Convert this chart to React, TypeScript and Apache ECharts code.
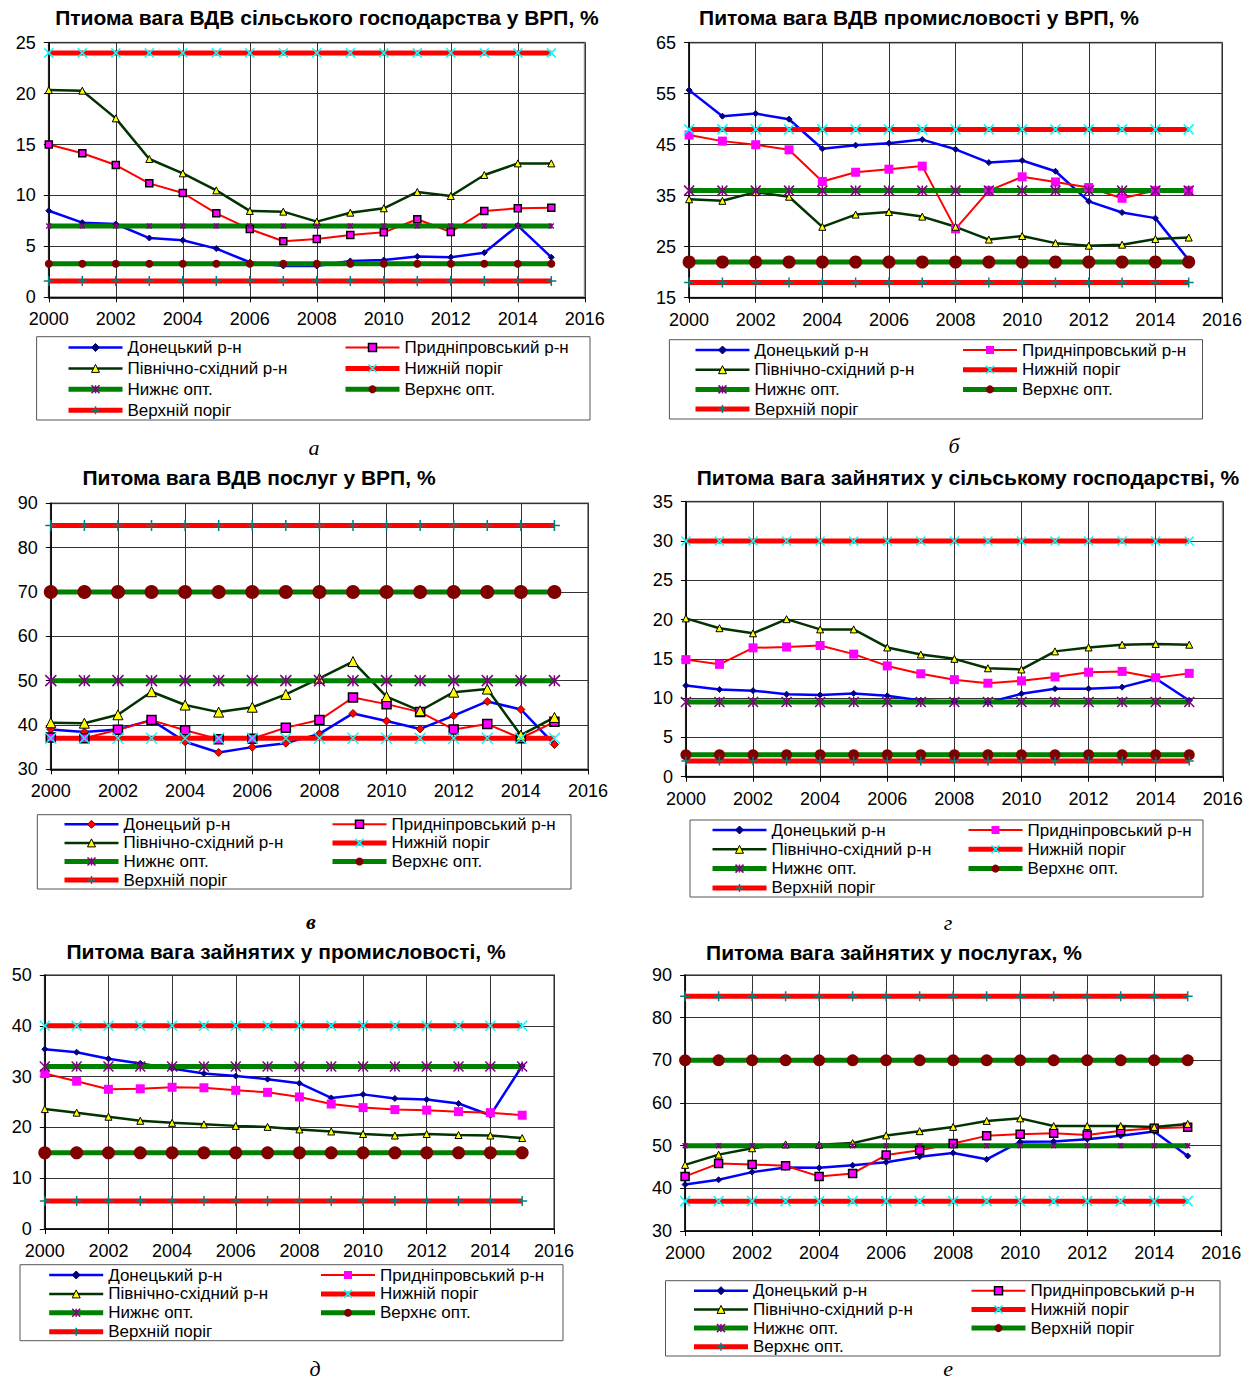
import React, { useEffect, useRef } from 'react';
import * as echarts from 'echarts';

const FONT = "'Liberation Sans', Arial, Helvetica, sans-serif";
const SERIF = "'Liberation Serif', 'DejaVu Serif', serif";

const YEARS = [2000, 2001, 2002, 2003, 2004, 2005, 2006, 2007, 2008, 2009, 2010, 2011, 2012, 2013, 2014, 2015];
const X_TICKS = { min: 2000, max: 2016, interval: 2 };

// а — ВДВ сільського господарства
const A_DON = [8.5, 7.33, 7.2, 5.82, 5.6, 4.78, 3.44, 3.08, 3.08, 3.57, 3.66, 4.0, 3.93, 4.38, 7.04, 3.93];
const A_PRY = [15.0, 14.14, 12.99, 11.19, 10.24, 8.25, 6.7, 5.5, 5.73, 6.12, 6.38, 7.66, 6.41, 8.48, 8.74, 8.8];
const A_NE = [20.35, 20.29, 17.57, 13.58, 12.17, 10.5, 8.48, 8.41, 7.43, 8.31, 8.74, 10.34, 9.95, 12.01, 13.15, 13.15];
const A_LIMITS = { redX: 24, greenStar: 7, greenCircle: 3.3, redPlus: 1.6 };

// б — ВДВ промисловості
const B_DON = [55.7, 50.6, 51.1, 50.0, 44.2, 44.9, 45.3, 46.0, 44.1, 41.5, 41.9, 39.8, 33.9, 31.7, 30.6, 22.4];
const B_PRY = [46.9, 45.7, 45.0, 44.0, 37.8, 39.6, 40.2, 40.8, 28.5, 36.0, 38.7, 37.7, 36.6, 34.5, 36.0, 36.0];
const B_NE = [34.3, 34.0, 35.7, 34.8, 28.9, 31.3, 31.8, 30.9, 28.9, 26.4, 27.1, 25.7, 25.2, 25.4, 26.5, 26.8];
const B_LIMITS = { redX: 48, greenStar: 36, greenCircle: 22, redPlus: 18 };

// в — ВДВ послуг
const C_DON = [39.0, 38.4, 39.0, 41.1, 36.2, 33.8, 35.0, 35.9, 38.0, 42.6, 40.9, 39.1, 42.1, 45.3, 43.5, 35.6];
const C_PRY = [37.2, 37.0, 38.9, 41.1, 38.8, 36.8, 36.9, 39.4, 41.1, 46.2, 44.7, 42.9, 39.0, 40.2, 37.0, 40.7];
const C_NE = [40.5, 40.4, 42.3, 47.5, 44.5, 42.9, 44.0, 46.9, 50.5, 54.3, 46.4, 43.2, 47.4, 48.1, 37.7, 41.7];
const C_LIMITS = { redX: 37, greenStar: 50, greenCircle: 70, redPlus: 85 };

// г — зайняті у сільському господарстві
const D_DON = [11.6, 11.1, 10.95, 10.5, 10.4, 10.6, 10.3, 9.7, 9.55, 9.45, 10.55, 11.2, 11.2, 11.4, 12.5, 9.7];
const D_PRY = [14.9, 14.3, 16.4, 16.5, 16.7, 15.6, 14.1, 13.1, 12.35, 11.9, 12.2, 12.7, 13.3, 13.4, 12.6, 13.15];
const D_NE = [20.15, 18.9, 18.25, 20.05, 18.75, 18.75, 16.45, 15.55, 15.0, 13.8, 13.65, 15.95, 16.45, 16.8, 16.9, 16.8];
const D_LIMITS = { redX: 30, greenStar: 9.5, greenCircle: 2.8, redPlus: 2 };

// д — зайняті у промисловості
const E_DON = [35.4, 34.8, 33.5, 32.6, 31.6, 30.6, 30.1, 29.5, 28.7, 25.8, 26.5, 25.7, 25.5, 24.7, 22.4, 32.1];
const E_PRY = [30.6, 29.1, 27.5, 27.6, 27.9, 27.8, 27.3, 26.9, 26.0, 24.6, 23.9, 23.5, 23.4, 23.1, 22.9, 22.4];
const E_NE = [23.6, 22.9, 22.1, 21.3, 20.9, 20.6, 20.3, 20.1, 19.6, 19.2, 18.7, 18.4, 18.7, 18.5, 18.4, 17.9];
const E_LIMITS = { redX: 40, greenStar: 32, greenCircle: 15, redPlus: 5.5 };

// е — зайняті у послугах
const F_DON = [40.9, 42.0, 43.8, 44.9, 44.8, 45.4, 46.1, 47.4, 48.3, 46.8, 50.9, 51.0, 51.5, 52.3, 53.3, 47.6];
const F_PRY = [42.8, 45.8, 45.6, 45.3, 42.8, 43.5, 47.8, 48.9, 50.5, 52.3, 52.7, 52.9, 52.5, 53.5, 54.1, 54.3];
const F_NE = [45.5, 47.9, 49.4, 50.3, 50.2, 50.6, 52.4, 53.4, 54.4, 55.8, 56.4, 54.6, 54.6, 54.6, 54.4, 55.1];
const F_LIMITS = { redX: 37, greenStar: 50, greenCircle: 70, redPlus: 85 };

const NAMES = {
  don: 'Донецький р-н',
  pry: 'Придніпровський р-н',
  ne: 'Північно-східний р-н',
  redX: 'Нижній поріг',
  greenStar: 'Нижнє опт.',
  greenCircle: 'Верхнє опт.',
  redPlus: 'Верхній поріг',
};

const X_MARK = 'path://M0,0L10,10M0,10L10,0';
const PLUS_MARK = 'path://M5,0L5,10M0,5L10,5';
const STAR_MARK = 'path://M0,0L10,10M0,10L10,0M5,0L5,10';

const STYLE_SMALL = { donColor: '#000080', donBorder: '#000080', donSize: 6, pryBorder: true, prySize: 7, neSize: 7, xSize: 9, starSize: 5, circleSize: 8, plusSize: 10 };
const STYLE_BIG = { donColor: '#000080', donBorder: '#000080', donSize: 6, pryBorder: false, prySize: 9, neSize: 7, xSize: 10, starSize: 10, circleSize: 13, plusSize: 10 };

const LEG_FONT = 17;

const PANELS: any[] = [
  {
    box: [0, 0, 623, 460], plot: [48.8, 42.7, 584.8, 297.3], y: [0, 25, 5],
    title: 'Птиома вага ВДВ сільського господарства у ВРП, %', titlePos: [327, 17],
    leg: { x1: 66, x2: 343, first: 347.5, step: 20.9 }, legBox: [36.6, 336.7, 590, 420],
    letter: 'а', letterPos: [314, 447], letterBold: false,
    don: A_DON, pry: A_PRY, ne: A_NE, lim: A_LIMITS, names: NAMES, st: STYLE_SMALL,
  },
  {
    box: [623, 0, 623, 460], plot: [689.1, 42.7, 1222, 297.7], y: [15, 65, 10],
    title: 'Питома вага ВДВ промисловості у ВРП, %', titlePos: [919, 17],
    leg: { x1: 693, x2: 960.5, first: 350, step: 19.7 }, legBox: [669.4, 339.7, 1202.5, 419],
    letter: 'б', letterPos: [954, 445], letterBold: false,
    don: B_DON, pry: B_PRY, ne: B_NE, lim: B_LIMITS, names: NAMES, st: STYLE_BIG,
  },
  {
    box: [0, 460, 623, 475], plot: [50.8, 503.3, 588, 769.3], y: [30, 90, 10],
    title: 'Питома вага ВДВ послуг у ВРП, %', titlePos: [259, 477],
    leg: { x1: 62, x2: 330, first: 824.3, step: 18.6 }, legBox: [37.3, 814.7, 571, 889],
    letter: 'в', letterPos: [311, 921.7], letterBold: true,
    don: C_DON, pry: C_PRY, ne: C_NE, lim: C_LIMITS,
    names: { ...NAMES, don: 'Донецьий р-н' },
    st: { donColor: '#FF0000', donBorder: '#800000', donSize: 8, pryBorder: true, prySize: 9, neSize: 10, xSize: 11, starSize: 11, circleSize: 14, plusSize: 11 },
  },
  {
    box: [623, 460, 623, 475], plot: [685.9, 501.7, 1222.8, 776.7], y: [0, 35, 5],
    title: 'Питома вага зайнятих у сільському господарстві, %', titlePos: [968, 477],
    leg: { x1: 710, x2: 966, first: 830, step: 19.3 }, legBox: [690, 820, 1203, 897],
    letter: 'г', letterPos: [948, 922], letterBold: false,
    don: D_DON, pry: D_PRY, ne: D_NE, lim: D_LIMITS, names: NAMES,
    st: { ...STYLE_BIG, circleSize: 11, xSize: 9, plusSize: 9 },
  },
  {
    box: [0, 935, 623, 444], plot: [44.8, 975, 554, 1229], y: [0, 50, 10],
    title: 'Питома вага зайнятих у промисловості, %', titlePos: [286, 951],
    leg: { x1: 46.7, x2: 318.5, first: 1275, step: 18.9 }, legBox: [20, 1264.7, 563, 1340.7],
    letter: 'д', letterPos: [315, 1368], letterBold: false,
    don: E_DON, pry: E_PRY, ne: E_NE, lim: E_LIMITS, names: NAMES, st: STYLE_BIG,
  },
  {
    box: [623, 935, 623, 444], plot: [685.1, 975, 1221.2, 1231], y: [30, 90, 10],
    title: 'Питома вага зайнятих у послугах, %', titlePos: [894, 952],
    leg: { x1: 691.5, x2: 969, first: 1290.7, step: 18.7 }, legBox: [665.5, 1280.7, 1220, 1356],
    letter: 'е', letterPos: [948, 1368], letterBold: false,
    don: F_DON, pry: F_PRY, ne: F_NE, lim: F_LIMITS,
    names: { ...NAMES, greenCircle: 'Верхній поріг', redPlus: 'Верхнє опт.' },
    st: { ...STYLE_SMALL, prySize: 8, xSize: 10, circleSize: 12 },
  },
];

const pts = (vals: number[]) => YEARS.map((yr, i) => [yr, vals[i]]);
const flat = (v: number) => YEARS.map((yr) => [yr, v]);

function buildOption(p: any) {
  const [ox, oy] = p.box;
  const [L, T, R, B] = p.plot;
  const st = p.st;
  const n = p.names;
  const common = { type: 'line', clip: false, silent: true, showSymbol: true };
  const series: any[] = [
    {
      ...common, name: n.don, data: pts(p.don), symbol: 'diamond', symbolSize: st.donSize,
      lineStyle: { color: '#0000FF', width: 2.5 },
      itemStyle: { color: st.donColor, borderColor: st.donBorder, borderWidth: 1 },
    },
    {
      ...common, name: n.pry, data: pts(p.pry), symbol: 'rect', symbolSize: st.prySize,
      lineStyle: { color: '#FF0000', width: 2 },
      itemStyle: { color: '#FF00FF', borderColor: st.pryBorder ? '#000000' : '#FF00FF', borderWidth: st.pryBorder ? 1.5 : 0 },
    },
    {
      ...common, name: n.ne, data: pts(p.ne), symbol: 'triangle', symbolSize: st.neSize,
      lineStyle: { color: '#003300', width: 2.5 },
      itemStyle: { color: '#FFFF00', borderColor: '#000000', borderWidth: 1 },
    },
    {
      ...common, name: n.redX, data: flat(p.lim.redX), symbol: X_MARK, symbolSize: st.xSize,
      lineStyle: { color: '#FF0000', width: 5 },
      itemStyle: { color: '#00FFFF', borderColor: '#00FFFF', borderWidth: 1.5 },
    },
    {
      ...common, name: n.greenStar, data: flat(p.lim.greenStar), symbol: STAR_MARK, symbolSize: st.starSize,
      lineStyle: { color: '#008000', width: 5 },
      itemStyle: { color: '#800080', borderColor: '#800080', borderWidth: 1.5 },
    },
    {
      ...common, name: n.greenCircle, data: flat(p.lim.greenCircle), symbol: 'circle', symbolSize: st.circleSize,
      lineStyle: { color: '#008000', width: 5 },
      itemStyle: { color: '#800000', borderColor: '#800000', borderWidth: 0 },
    },
    {
      ...common, name: n.redPlus, data: flat(p.lim.redPlus), symbol: PLUS_MARK, symbolSize: st.plusSize,
      lineStyle: { color: '#FF0000', width: 5 },
      itemStyle: { color: '#008080', borderColor: '#008080', borderWidth: 1.5 },
    },
  ];

  const legendCommon = {
    orient: 'vertical', itemWidth: 54, itemHeight: 10, padding: 0, selectedMode: false,
    textStyle: { fontSize: LEG_FONT, color: '#000', fontFamily: FONT, lineHeight: LEG_FONT },
    lineStyle: { width: 'inherit' },
    itemStyle: { borderWidth: 'inherit' },
    itemGap: p.leg.step - LEG_FONT,
    top: p.leg.first - LEG_FONT / 2 - oy,
  };

  const axisCommon = {
    axisLine: { show: true, onZero: false, lineStyle: { color: '#000', width: 1.5 } },
    axisTick: { show: true, inside: false, length: 5, lineStyle: { color: '#000', width: 1 } },
    splitLine: { show: true, lineStyle: { color: '#333', width: 1 } },
  };

  return {
    animation: false,
    backgroundColor: 'transparent',
    grid: {
      left: L - ox, top: T - oy, width: R - L, height: B - T,
      show: true, borderColor: '#8c8c8c', borderWidth: 2, backgroundColor: '#fff', containLabel: false,
    },
    xAxis: {
      type: 'value', min: X_TICKS.min, max: X_TICKS.max, interval: X_TICKS.interval,
      ...axisCommon,
      axisLabel: { fontSize: 18, color: '#000', fontFamily: FONT, margin: 13, formatter: (v: number) => String(v), showMinLabel: true, showMaxLabel: true },
    },
    yAxis: {
      type: 'value', min: p.y[0], max: p.y[1], interval: p.y[2],
      ...axisCommon,
      axisLabel: { fontSize: 18, color: '#000', fontFamily: FONT, margin: 13, formatter: (v: number) => String(v), showMinLabel: true, showMaxLabel: true },
    },
    legend: [
      { ...legendCommon, left: p.leg.x1 - ox, data: [n.don, n.ne, n.greenStar, n.redPlus] },
      { ...legendCommon, left: p.leg.x2 - ox, data: [n.pry, n.redX, n.greenCircle] },
    ],
    graphic: [
      {
        type: 'text', x: p.titlePos[0] - ox, y: p.titlePos[1] - oy, silent: true,
        style: { text: p.title, font: `bold 21px ${FONT}`, fill: '#000', align: 'center', verticalAlign: 'middle' },
      },
      {
        type: 'rect', silent: true, z: -1,
        shape: { x: p.legBox[0] - ox, y: p.legBox[1] - oy, width: p.legBox[2] - p.legBox[0], height: p.legBox[3] - p.legBox[1] },
        style: { fill: '#fff', stroke: '#555', lineWidth: 1 },
      },
      {
        type: 'text', x: p.letterPos[0] - ox, y: p.letterPos[1] - oy, silent: true,
        style: { text: p.letter, font: `italic ${p.letterBold ? 'bold ' : ''}22px ${SERIF}`, fill: '#000', align: 'center', verticalAlign: 'middle' },
      },
    ],
    series,
  };
}

function Panel({ p }: { p: any }) {
  const ref = useRef<HTMLDivElement>(null);
  useEffect(() => {
    if (!ref.current) return;
    const chart = echarts.init(ref.current, null, { renderer: 'svg' });
    chart.setOption(buildOption(p) as any);
    return () => chart.dispose();
  }, [p]);
  return (
    <div
      ref={ref}
      style={{ position: 'absolute', left: p.box[0], top: p.box[1], width: p.box[2], height: p.box[3], overflow: 'hidden' }}
    />
  );
}

export default function App() {
  return (
    <div style={{ position: 'absolute', left: 0, top: 0, width: 1246, height: 1379, background: '#fff' }}>
      {PANELS.map((p, i) => (
        <Panel key={i} p={p} />
      ))}
    </div>
  );
}
